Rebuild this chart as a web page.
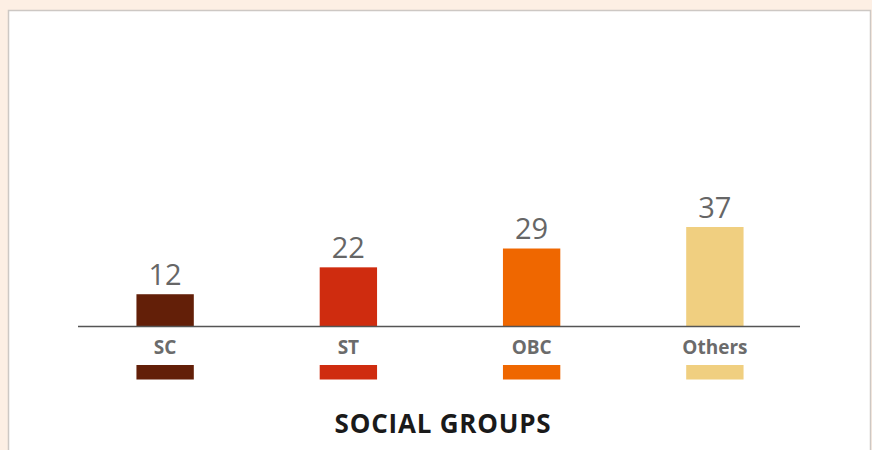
<!DOCTYPE html>
<html>
<head>
<meta charset="utf-8">
<script src="https://cdn.jsdelivr.net/npm/d3@7"></script>
<style>
  html, body { margin: 0; padding: 0; background: #fdefe4; }
  .chart { width: 872px; height: 450px; overflow: hidden; }
</style>
</head>
<body>
<div class="chart"></div>
<script>
const groups = ['SC', 'ST', 'OBC', 'Others']
const shares = [12, 22, 29, 37]
const colors = ['#631f08', '#cf2c0f', '#ef6700', '#f0cf80']
const title = 'SOCIAL GROUPS'

const width = 872
const height = 450
const baseY = 326.5

const svg = d3
  .select('.chart')
  .append('svg')
  .attr('width', width)
  .attr('height', height)

// white panel
svg
  .append('rect')
  .attr('x', 8.5)
  .attr('y', 10.5)
  .attr('width', 862)
  .attr('height', 460)
  .style('fill', '#fff')
  .style('stroke', '#cdc8c4')
  .style('stroke-width', 1.5)

const x = d3
  .scaleBand()
  .domain(groups)
  .range([73.5, 806.5])
  .paddingInner(0.687)
  .paddingOuter(0.3435)

const y = d3
  .scaleLinear()
  .domain([0, 37])
  .range([baseY, 227])

const data = groups.map((g, i) => ({group: g, value: shares[i], color: colors[i]}))

svg
  .selectAll('.bar')
  .data(data)
  .enter()
  .append('rect')
  .attr('class', 'bar')
  .attr('x', d => x(d.group))
  .attr('y', d => y(d.value))
  .attr('width', x.bandwidth())
  .attr('height', d => y(0) - y(d.value))
  .style('fill', d => d.color)

svg
  .selectAll('.val')
  .data(data)
  .enter()
  .append('text')
  .attr('class', 'val')
  .attr('x', d => x(d.group) + x.bandwidth() / 2)
  .attr('y', d => y(d.value) - 9.5)
  .style('text-anchor', 'middle')
  .style('font-family', 'Open Sans')
  .style('font-size', '29px')
  .style('fill', '#666')
  .text(d => d.value)

// baseline
svg
  .append('line')
  .attr('x1', 78)
  .attr('x2', 800)
  .attr('y1', baseY)
  .attr('y2', baseY)
  .style('stroke', '#555')
  .style('stroke-width', 1.5)

// category labels
svg
  .selectAll('.cat')
  .data(data)
  .enter()
  .append('text')
  .attr('class', 'cat')
  .attr('x', d => x(d.group) + x.bandwidth() / 2)
  .attr('y', 354)
  .style('text-anchor', 'middle')
  .style('font-family', 'Open Sans')
  .style('font-weight', 'bold')
  .style('font-size', '19px')
  .style('fill', '#6b6b6b')
  .text(d => d.group)

// legend swatches under the labels
svg
  .selectAll('.swatch')
  .data(data)
  .enter()
  .append('rect')
  .attr('class', 'swatch')
  .attr('x', d => x(d.group))
  .attr('y', 365)
  .attr('width', x.bandwidth())
  .attr('height', 14.5)
  .style('fill', d => d.color)

svg
  .append('text')
  .attr('x', 443)
  .attr('y', 433)
  .style('text-anchor', 'middle')
  .style('font-family', 'Open Sans')
  .style('font-weight', 'bold')
  .style('font-size', '26px')
  .style('letter-spacing', '0.8px')
  .style('fill', '#1a1a1a')
  .text(title)
</script>
</body>
</html>
